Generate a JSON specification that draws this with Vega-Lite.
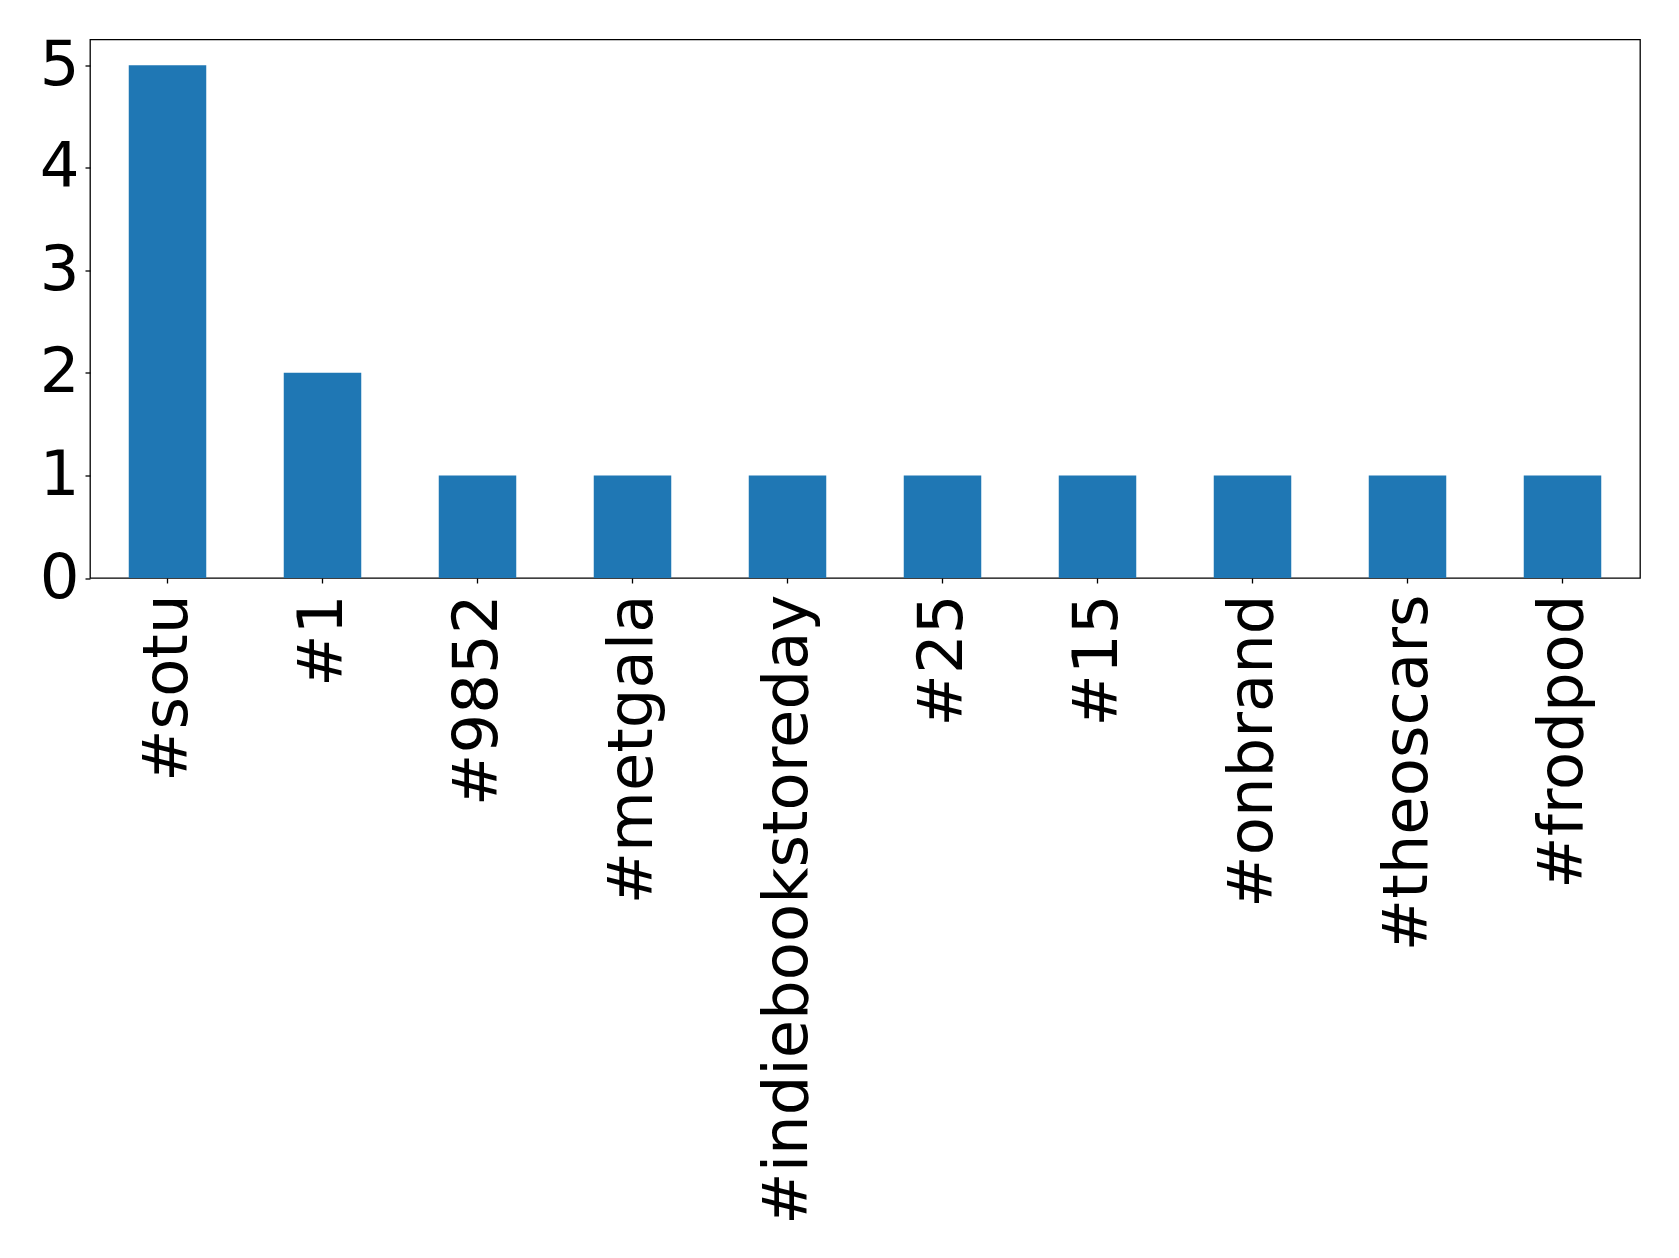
{
  "$schema": "https://vega.github.io/schema/vega-lite/v6.json",
  "width": 1550,
  "height": 538.5,
  "autosize": {"type": "none"},
  "padding": {"left": 90, "top": 39.5, "right": 39, "bottom": 680},
  "background": "white",
  "config": {
    "font": "DejaVu Sans",
    "view": {"stroke": "black", "strokeWidth": 1.3},
    "axis": {"grid": false, "domain": false, "ticks": true, "tickColor": "black", "tickWidth": 1.3, "tickSize": 5, "labelColor": "black", "labelFont": "DejaVu Sans", "labelFontSize": 62.5, "title": null}
  },
  "data": {
    "values": [
      {"tag": "#sotu", "count": 5},
      {"tag": "#1", "count": 2},
      {"tag": "#9852", "count": 1},
      {"tag": "#metgala", "count": 1},
      {"tag": "#indiebookstoreday", "count": 1},
      {"tag": "#25", "count": 1},
      {"tag": "#15", "count": 1},
      {"tag": "#onbrand", "count": 1},
      {"tag": "#theoscars", "count": 1},
      {"tag": "#frodpod", "count": 1}
    ]
  },
  "mark": {"type": "bar", "color": "#1f77b4"},
  "encoding": {
    "x": {
      "field": "tag", "type": "nominal", "sort": null,
      "scale": {"paddingInner": 0.5, "paddingOuter": 0.25},
      "axis": {"labelAngle": 270, "labelPadding": 11, "labelAlign": "right", "labelBaseline": "middle", "labelLimit": 0, "labelOverlap": false, "labelBound": false}
    },
    "y": {
      "field": "count", "type": "quantitative",
      "scale": {"domain": [0, 5.25], "nice": false, "zero": true},
      "axis": {"values": [0, 1, 2, 3, 4, 5], "labelPadding": 6, "format": "d"}
    }
  }
}
